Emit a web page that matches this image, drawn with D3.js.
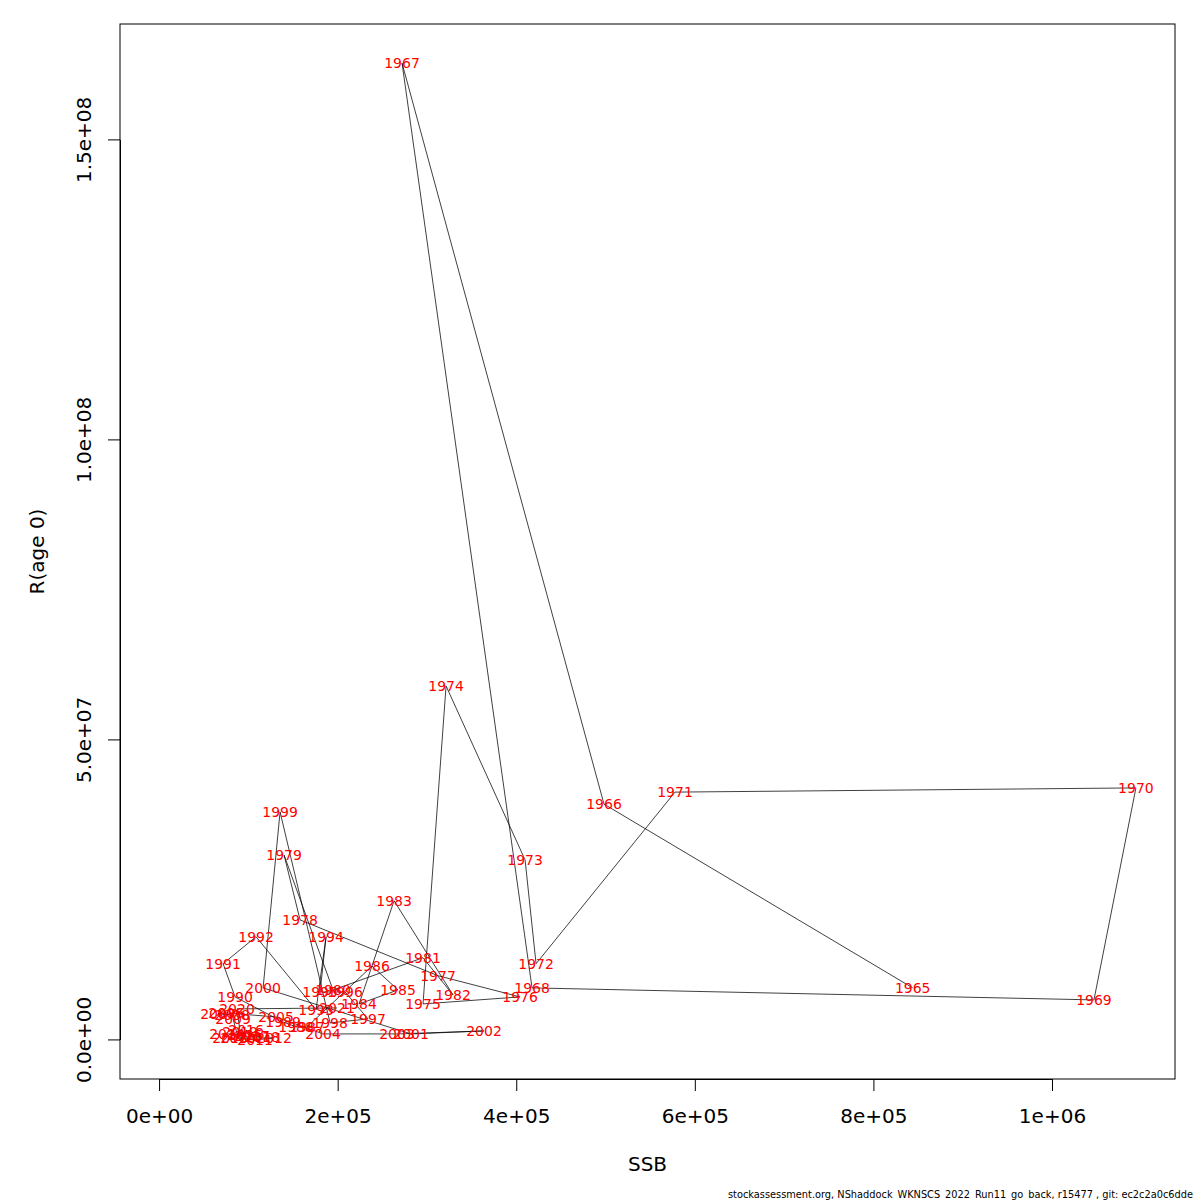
<!DOCTYPE html>
<html><head><meta charset="utf-8">
<script src="https://cdn.jsdelivr.net/npm/d3@7"></script>
<style>body{margin:0;background:#fff}svg{display:block}text{font-family:"DejaVu Sans",sans-serif}</style>
</head><body>
<script>
const years = d3.range(1965, 2022);
const ssb = [844000,498300,272100,417700,1047000,1094000,577800,422200,409900,321400,
  295600,404300,312400,157900,140000,194800,295600,329200,263200,224000,
  267600,238500,165700,153400,138900,85100,71700,108600,175800,187000,
  180300,208300,234000,191500,135500,116500,282200,363900,266500,183700,
  131000,75000,66000,81700,82900,88500,107500,128800,79500,76100,
  96300,97400,104100,115300,90700,87300,199300];
const rec = [8.67e6,3.93e7,1.628e8,8.67e6,6.67e6,4.2e7,4.13e7,1.27e7,3.0e7,5.9e7,
  6.0e6,7.17e6,1.07e7,2.0e7,3.08e7,8.33e6,1.37e7,7.5e6,2.32e7,6.0e6,
  8.33e6,1.23e7,2.17e6,2.17e6,3.0e6,7.17e6,1.27e7,1.72e7,5.0e6,1.72e7,
  8.0e6,8.0e6,3.5e6,2.83e6,3.8e7,8.67e6,1.0e6,1.5e6,1.0e6,1.0e6,
  3.83e6,4.5e6,4.33e6,4.17e6,3.5e6,3.3e5,0,3.3e5,3.3e5,1.0e6,
  8.3e5,1.67e6,6.7e5,5.0e5,1.33e6,5.17e6,5.33e6];
const xTicks = [0,2e5,4e5,6e5,8e5,1e6];
const xTickLabels = ["0e+00","2e+05","4e+05","6e+05","8e+05","1e+06"];
const yTicks = [0,5e7,1e8,1.5e8];
const yTickLabels = ["0.0e+00","5.0e+07","1.0e+08","1.5e+08"];
const footer = "stockassessment.org, NShaddock_WKNSCS_2022_Run11_go_back, r15477 , git: ec2c2a0c6dde";

const W=1200,H=1200, L=120,R=1175,T=24,B=1079;
const xmax=d3.max(ssb), ymax=d3.max(rec);
const x=d3.scaleLinear().domain([-0.04*xmax,1.04*xmax]).range([L,R]);
const y=d3.scaleLinear().domain([-0.04*ymax,1.04*ymax]).range([B,T]);
const data=years.map((yr,i)=>({yr,s:ssb[i],r:rec[i]}));

const svg=d3.select("body").append("svg").attr("width",W).attr("height",H);
svg.append("rect").attr("x",L).attr("y",T).attr("width",R-L).attr("height",B-T)
  .attr("fill","none").attr("stroke","#000").attr("stroke-width",1);

const xa=svg.append("g").attr("transform",`translate(0,${B})`)
  .call(d3.axisBottom(x).tickValues(xTicks).tickFormat((d,i)=>xTickLabels[i]).tickSize(12).tickPadding(18).tickSizeOuter(0));
xa.selectAll("text").attr("font-size",20).attr("fill","#000");
const ya=svg.append("g").attr("transform",`translate(${L},0)`)
  .call(d3.axisLeft(y).tickValues(yTicks).tickFormat((d,i)=>yTickLabels[i]).tickSize(12).tickSizeOuter(0));
ya.selectAll("text").attr("font-size",20).attr("fill","#000")
  .attr("text-anchor","middle").attr("dy",null)
  .attr("transform",d=>`translate(${-35},${y(d)}) rotate(-90)`).attr("x",0).attr("y",0)
  .attr("dominant-baseline","middle");
ya.selectAll(".tick").attr("transform",null);
ya.selectAll(".tick line").attr("y1",d=>y(d)).attr("y2",d=>y(d));
svg.selectAll(".domain").attr("stroke","#000");
xa.select(".domain").attr("d",`M${x(0)},0.5H${x(1e6)}`);
ya.select(".domain").attr("d",`M0.5,${y(0)}V${y(1.5e8)}`);
svg.selectAll(".tick line").attr("stroke","#000");

svg.append("path").datum(data)
  .attr("d",d3.line().x(d=>x(d.s)).y(d=>y(d.r)))
  .attr("fill","none").attr("stroke","#000").attr("stroke-width",0.75);

svg.append("g").selectAll("text").data(data).join("text")
  .attr("x",d=>x(d.s)).attr("y",d=>y(d.r)).attr("dy","0.35em")
  .attr("text-anchor","middle").attr("font-size",14).attr("fill","#ff0000")
  .text(d=>d.yr);

svg.append("text").attr("x",(L+R)/2).attr("y",1171).attr("text-anchor","middle")
  .attr("font-size",20).text("SSB");
svg.append("text").attr("transform",`translate(44,${(T+B)/2}) rotate(-90)`)
  .attr("text-anchor","middle").attr("font-size",20).text("R(age 0)");
svg.append("text").attr("x",1193).attr("y",1198).attr("text-anchor","end")
  .attr("font-size",9.8).text(footer);
</script>
</body></html>
